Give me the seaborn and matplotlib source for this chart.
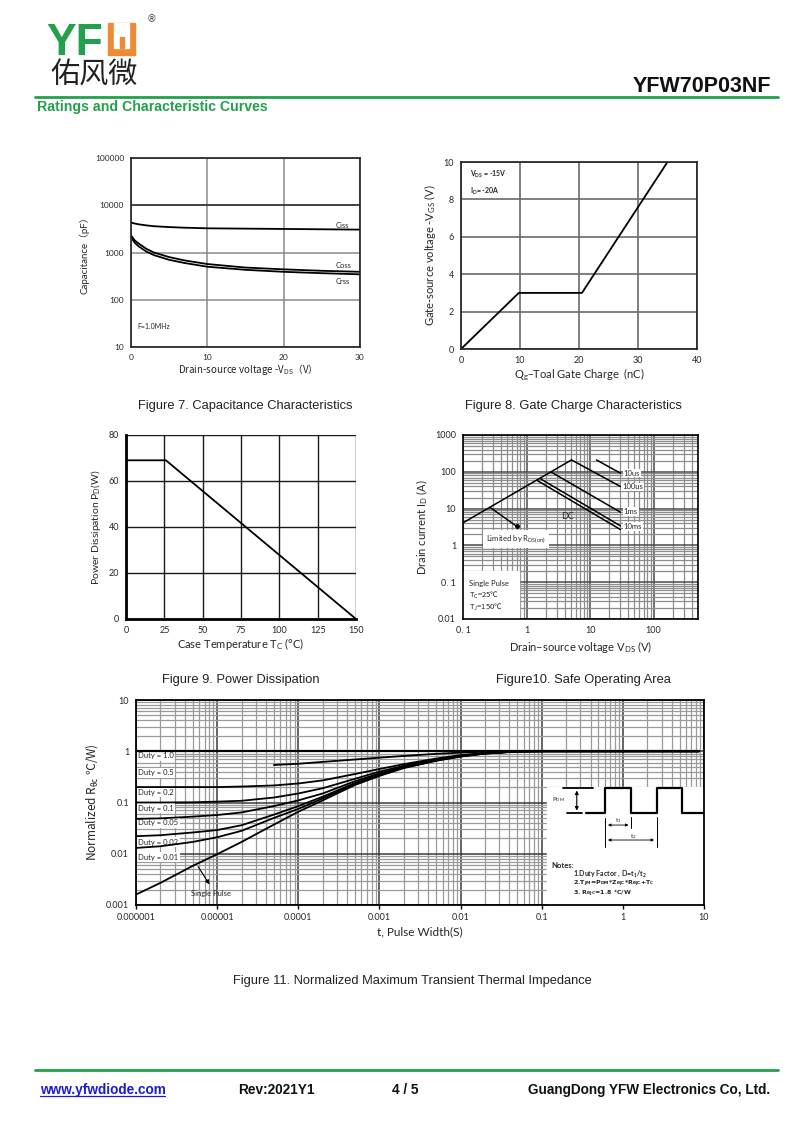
import numpy as np
import pandas as pd
import matplotlib
matplotlib.use('Agg')
import matplotlib.pyplot as plt
import seaborn as sns
from matplotlib.patches import Rectangle
from matplotlib.ticker import FixedLocator, NullLocator, LogLocator, NullFormatter

sns.set_theme(style='white')
plt.rcParams['font.family'] = ['Lato', 'Noto Sans CJK SC', 'DejaVu Sans']
plt.rcParams['mathtext.default'] = 'regular'

# ---- data ----
# Fig 7 capacitance
cap_vds = [0, 0.5, 1, 2, 3, 5, 7, 10, 15, 20, 25, 30]
cap_ciss = [4300, 4100, 3950, 3750, 3600, 3450, 3350, 3250, 3200, 3150, 3100, 3050]
cap_coss = [2300, 1800, 1550, 1200, 1000, 800, 680, 570, 480, 440, 410, 390]
cap_crss = [2100, 1600, 1350, 1050, 880, 700, 600, 500, 430, 390, 365, 345]

# Fig 8 gate charge
gate_qg = [0, 9.8, 20.5, 35]
gate_vgs = [0, 3, 3, 10]

# Fig 9 power dissipation
pwr_tc = [0, 26, 150]
pwr_pd = [69, 69, 0]

# Fig 10 safe operating area
soa_limit_v = [0.1, 5.1]
soa_limit_i = [4.1, 210]
soa_10us_v = [12.6, 30]
soa_10us_i = [210, 92]
soa_100us_v = [5.1, 30]
soa_100us_i = [210, 40]
soa_1ms_v = [2.4, 30]
soa_1ms_i = [100, 8]
soa_10ms_v = [1.62, 30]
soa_10ms_i = [66, 3.4]
soa_dc_v = [1.45, 30]
soa_dc_i = [59, 2.7]
soa_ptr_v = [0.265, 0.7]
soa_ptr_i = [10.9, 3.3]

# Fig 11 transient thermal impedance
th_t = [1e-6, 2e-6, 5e-6, 1e-5, 2e-5, 5e-5, 1e-4, 2e-4, 5e-4, 1e-3, 2e-3,
        5e-3, 1e-2, 2e-2, 5e-2, 1e-1, 1, 8.7]
th_t05 = [5e-5, 1e-4, 2e-4, 5e-4, 1e-3, 2e-3, 5e-3, 1e-2, 2e-2, 5e-2, 1e-1,
          1, 8.7]
z_d10 = [1, 1, 1, 1, 1, 1, 1, 1, 1, 1, 1, 1, 1, 1, 1, 1, 1, 1]
z_d05 = [0.54, 0.57, 0.62, 0.69, 0.75, 0.81, 0.89, 0.94, 0.98, 1, 1, 1, 1]
z_d02 = [0.2, 0.2, 0.2, 0.2, 0.205, 0.215, 0.235, 0.27, 0.36, 0.45, 0.56,
         0.72, 0.84, 0.93, 0.99, 1, 1, 1]
z_d01 = [0.1, 0.1, 0.101, 0.104, 0.108, 0.125, 0.15, 0.19, 0.29, 0.40, 0.52,
         0.70, 0.82, 0.92, 0.99, 1, 1, 1]
z_d005 = [0.048, 0.049, 0.053, 0.057, 0.064, 0.085, 0.11, 0.15, 0.26, 0.37,
          0.50, 0.68, 0.81, 0.91, 0.99, 1, 1, 1]
z_d002 = [0.022, 0.023, 0.026, 0.029, 0.036, 0.058, 0.085, 0.13, 0.24, 0.35,
          0.49, 0.67, 0.80, 0.91, 0.99, 1, 1, 1]
z_d001 = [0.013, 0.014, 0.017, 0.021, 0.028, 0.05, 0.075, 0.12, 0.23, 0.34,
          0.48, 0.66, 0.79, 0.90, 0.99, 1, 1, 1]
z_single = [0.0016, 0.0027, 0.0058, 0.0098, 0.017, 0.037, 0.066, 0.11, 0.22,
            0.33, 0.47, 0.65, 0.79, 0.90, 0.99, 1, 1, 1]
duty_labels = ['Duty = 1.0', 'Duty = 0.5', 'Duty = 0.2', 'Duty = 0.1',
               'Duty = 0.05', 'Duty = 0.02', 'Duty = 0.01']

GREEN = '#23a04c'
ORANGE = '#ef8a34'
W, H = 800, 1130

fig = plt.figure(figsize=(8, 11.3), dpi=100)

# page overlay in pixel coordinates
page = fig.add_axes([0, 0, 1, 1])
page.set_xlim(0, W)
page.set_ylim(H, 0)
page.axis('off')


def box(l, t, r, b):
    return [l / W, 1 - b / H, (r - l) / W, (b - t) / H]


def line(ax, x, y, lw=1.3):
    sns.lineplot(x=x, y=y, ax=ax, color='black', lw=lw, sort=False,
                 estimator=None)


# ---- header ----
page.text(46, 55, 'YF', fontsize=32, fontweight='bold', color=GREEN,
          family='Liberation Sans', va='baseline')
page.add_patch(Rectangle((108, 23), 27, 32, color=ORANGE))
page.add_patch(Rectangle((114, 23), 15, 25, color='white'))
page.add_patch(Rectangle((119.5, 37), 4, 11, color=ORANGE))
page.text(147, 19, '®', fontsize=7, color='#444444', va='center',
          family='DejaVu Sans')
page.text(50, 76, '佑风微', fontsize=21, family='Noto Sans CJK SC',
          color='#222222', va='center')
page.text(771, 86, 'YFW70P03NF', fontsize=15.5, fontweight='bold',
          family='Liberation Sans', ha='right', va='center', color='#111111')
page.plot([35, 778], [97, 97], color=GREEN, lw=2)
page.text(37, 100, 'Ratings and Characteristic Curves', fontsize=10.2,
          fontweight='bold', family='Liberation Sans', color=GREEN,
          va='top')

# ---- footer ----
page.plot([35, 778], [1070, 1070], color=GREEN, lw=2)
foot_kw = dict(fontsize=9.8, fontweight='bold', family='Liberation Sans',
               va='center', color='#111111')
page.text(40, 1090, 'www.yfwdiode.com', **{**foot_kw, 'color': '#1a1ad8'})
page.plot([40, 165], [1096, 1096], color='#1a1ad8', lw=0.9)
page.text(238, 1090, 'Rev:2021Y1', **foot_kw)
page.text(392, 1090, '4 / 5', **foot_kw)
page.text(770, 1090, 'GuangDong YFW Electronics Co, Ltd.', ha='right',
          **foot_kw)

# ---- captions ----
cap_kw = dict(fontsize=9.3, family='Liberation Sans', ha='center',
              va='center', color='#222222')
page.text(245, 406, 'Figure 7. Capacitance Characteristics', **cap_kw)
page.text(573, 406, 'Figure 8. Gate Charge Characteristics', **cap_kw)
page.text(241, 680, 'Figure 9. Power Dissipation', **cap_kw)
page.text(583, 680, 'Figure10. Safe Operating Area', **cap_kw)
page.text(412, 981, 'Figure 11. Normalized Maximum Transient Thermal Impedance',
          **cap_kw)

# ---- Fig 7 ----
ax1 = fig.add_axes(box(131, 158, 360, 347))
ax1.set_yscale('log')
line(ax1, cap_vds, cap_ciss)
line(ax1, cap_vds, cap_coss)
line(ax1, cap_vds, cap_crss)
ax1.set_xlim(0, 30)
ax1.set_ylim(10, 100000)
ax1.set_xticks([0, 10, 20, 30])
ax1.yaxis.set_major_locator(FixedLocator([10, 100, 1000, 10000, 100000]))
ax1.set_yticklabels(['10', '100', '1000', '10000', '100000'])
ax1.yaxis.set_minor_locator(NullLocator())
ax1.grid(True, which='major', color='#8a8a8a', lw=1.1)
ax1.axhline(10000, color='#333333', lw=1.2)
ax1.tick_params(length=0, labelsize=6, pad=5)
ax1.set_xlabel('Drain-source voltage -V$_{DS}$（V）', fontsize=7,
               family='Noto Sans CJK SC', labelpad=1)
ax1.set_ylabel('Capacitance（pF）', fontsize=7, labelpad=4)
ax1.text(26.8, 3700, 'Ciss', fontsize=5.5, va='center')
ax1.text(26.8, 520, 'Coss', fontsize=5.5, va='center')
ax1.text(26.8, 240, 'Crss', fontsize=5.5, va='center')
ax1.text(0.8, 27, 'F=1.0MHz', fontsize=5, va='center')

# ---- Fig 8 ----
ax2 = fig.add_axes(box(461, 162, 697, 349))
line(ax2, gate_qg, gate_vgs)
ax2.set_xlim(0, 40)
ax2.set_ylim(0, 10)
ax2.set_xticks([0, 10, 20, 30, 40])
ax2.set_yticks([0, 2, 4, 6, 8, 10])
ax2.grid(True, color='#6a6a6a', lw=1.2)
ax2.tick_params(length=0, labelsize=6.5, pad=5)
ax2.set_xlabel('Q$_g$–Toal Gate Charge  (nC)', fontsize=8, labelpad=1)
ax2.set_ylabel('Gate-source voltage -V$_{GS}$ (V)', fontsize=8, labelpad=4)
ax2.text(1.5, 9.35, 'V$_{DS}$ = -15V', fontsize=5, fontweight='bold',
         va='center')
ax2.text(1.5, 8.45, 'I$_D$= -20A', fontsize=5, fontweight='bold', va='center')

# ---- Fig 9 ----
ax3 = fig.add_axes(box(126, 435, 356, 619))
line(ax3, pwr_tc, pwr_pd)
ax3.set_xlim(0, 150)
ax3.set_ylim(0, 80)
ax3.set_xticks([0, 25, 50, 75, 100, 125, 150])
ax3.set_yticks([0, 20, 40, 60, 80])
ax3.grid(True, color='#1a1a1a', lw=1.0)
ax3.tick_params(length=0, labelsize=6.5, pad=5)
for s in ['left', 'bottom']:
    ax3.spines[s].set_linewidth(2)
    ax3.spines[s].set_color('black')
for s in ['top', 'right']:
    ax3.spines[s].set_visible(False)
ax3.set_xlabel('Case Temperature T$_C$ (°C)', fontsize=8, labelpad=1)
ax3.set_ylabel('Power Dissipation P$_D$(W)', fontsize=7.5, labelpad=4)

# ---- Fig 10 ----
ax4 = fig.add_axes(box(463, 435, 698, 619))
ax4.set_xscale('log')
ax4.set_yscale('log')
ax4.set_axisbelow(True)
for v, i in [(soa_limit_v, soa_limit_i), (soa_10us_v, soa_10us_i),
             (soa_100us_v, soa_100us_i), (soa_1ms_v, soa_1ms_i),
             (soa_10ms_v, soa_10ms_i), (soa_dc_v, soa_dc_i)]:
    line(ax4, v, i, lw=1.1)
line(ax4, soa_ptr_v, soa_ptr_i, lw=1.0)
ax4.plot(soa_ptr_v[-1:], soa_ptr_i[-1:], 'o', color='black', ms=2.5)
ax4.set_xlim(0.1, 500)
ax4.set_ylim(0.01, 1000)
ax4.xaxis.set_major_locator(FixedLocator([0.1, 1, 10, 100]))
ax4.set_xticklabels(['0. 1', '1', '10', '100'])
ax4.yaxis.set_major_locator(FixedLocator([0.01, 0.1, 1, 10, 100, 1000]))
ax4.set_yticklabels(['0.01', '0. 1', '1', '10', '100', '1000'])
for a in [ax4.xaxis, ax4.yaxis]:
    a.set_minor_locator(LogLocator(base=10, subs=np.arange(2, 10), numticks=20))
    a.set_minor_formatter(NullFormatter())
ax4.grid(True, which='major', color='#4a4a4a', lw=1.1)
ax4.grid(True, which='minor', color='#8c8c8c', lw=0.9)
ax4.tick_params(which='both', length=0, labelsize=6.5, pad=5)
ax4.add_patch(Rectangle((0, 0), 0.237, 0.26, transform=ax4.transAxes,
                        color='white', zorder=1))
ax4.text(0.10, 0.435, 'Limited by R$_{DS(on)}$', transform=ax4.transAxes,
         fontsize=5.5, va='center', zorder=3,
         bbox=dict(fc='white', ec='none', pad=2.5))
ax4.text(0.025, 0.195, 'Single Pulse', transform=ax4.transAxes, fontsize=5.5,
         va='center', zorder=3)
ax4.text(0.025, 0.13, 'T$_C$=25℃', transform=ax4.transAxes, fontsize=5.5,
         va='center', zorder=3, family='Noto Sans CJK SC')
ax4.text(0.025, 0.065, 'T$_J$=150℃', transform=ax4.transAxes, fontsize=5.5,
         va='center', zorder=3, family='Noto Sans CJK SC')
ax4.text(3.5, 6.2, 'DC', fontsize=6.5, va='center')
soa_kw = dict(fontsize=5.5, va='center', zorder=3,
              bbox=dict(fc='white', ec='none', pad=0.5))
ax4.text(34, 92, '10us', **soa_kw)
ax4.text(32, 39, '100us', **soa_kw)
ax4.text(34, 8.3, '1ms', **soa_kw)
ax4.text(34, 3.3, '10ms', **soa_kw)
ax4.set_xlabel('Drain−source voltage V$_{DS}$ (V)', fontsize=8, labelpad=3)
ax4.set_ylabel('Drain current I$_D$ (A)', fontsize=8, labelpad=4)
for s in ax4.spines.values():
    s.set_color('black')
    s.set_linewidth(1.2)

# ---- Fig 11 ----
ax5 = fig.add_axes(box(136, 700, 704, 905))
ax5.set_xscale('log')
ax5.set_yscale('log')
ax5.set_axisbelow(True)
line(ax5, th_t, z_d10, lw=1.6)
line(ax5, th_t05, z_d05)
for z in [z_d02, z_d01, z_d005, z_d002, z_d001, z_single]:
    line(ax5, th_t, z)
ax5.set_xlim(1e-6, 10)
ax5.set_ylim(1e-3, 10)
xt = [1e-6, 1e-5, 1e-4, 1e-3, 1e-2, 1e-1, 1, 10]
ax5.xaxis.set_major_locator(FixedLocator(xt))
ax5.set_xticklabels(['0.000001', '0.00001', '0.0001', '0.001', '0.01', '0.1',
                     '1', '10'])
ax5.yaxis.set_major_locator(FixedLocator([1e-3, 1e-2, 1e-1, 1, 10]))
ax5.set_yticklabels(['0.001', '0.01', '0.1', '1', '10'])
for a in [ax5.xaxis, ax5.yaxis]:
    a.set_minor_locator(LogLocator(base=10, subs=np.arange(2, 10), numticks=20))
    a.set_minor_formatter(NullFormatter())
ax5.grid(True, which='major', color='#3a3a3a', lw=1.1)
ax5.grid(True, which='minor', color='#9a9a9a', lw=0.9)
ax5.tick_params(which='major', axis='x', length=3, width=1, color='black',
                labelsize=6.5, pad=3, direction='out', bottom=True)
ax5.tick_params(which='minor', length=0)
ax5.tick_params(axis='y', length=0, labelsize=6.5, pad=5)
for s in ax5.spines.values():
    s.set_color('black')
    s.set_linewidth(1.3)
ax5.set_xlabel('t, Pulse Width(S)', fontsize=8.5, labelpad=3)
ax5.set_ylabel('Normalized R$_{θc}$ ℃/W)', fontsize=8.5, labelpad=4,
               family='Noto Sans CJK SC')

# duty labels
for lab, fy in zip(duty_labels, [0.727, 0.644, 0.551, 0.473, 0.40, 0.307, 0.234]):
    ax5.text(0.004, fy, lab, transform=ax5.transAxes, fontsize=5.5,
             va='center', zorder=1.8,
             bbox=dict(fc='white', ec='none', pad=1))
ax5.annotate('', xy=(0.132, 0.089), xycoords='axes fraction',
             xytext=(5.6e-6, 0.0062), textcoords='data',
             arrowprops=dict(arrowstyle='-|>', color='black', lw=0.8,
                             mutation_scale=6))
ax5.text(0.132, 0.054, 'Single Pulse', transform=ax5.transAxes, fontsize=5.5,
         ha='center', va='center')

# notes region with pulse sketch
T = ax5.transAxes
ax5.add_patch(Rectangle((0.724, 0), 0.276, 0.576, transform=T, color='white',
                        zorder=1))
hi, lo = 0.572, 0.447
ax5.plot([0.752, 0.805], [hi, hi], color='black', lw=1.3, transform=T, zorder=3)
ax5.plot([0.758, 0.786], [lo, lo], color='black', lw=1.3, transform=T, zorder=3)
ax5.annotate('', xy=(0.776, hi), xytext=(0.776, lo), xycoords=T,
             arrowprops=dict(arrowstyle='<|-|>', color='black', lw=0.8,
                             mutation_scale=5), zorder=3)
ax5.text(0.733, 0.512, 'P$_{DM}$', transform=T, fontsize=4.5, va='center')
wx = [0.793, 0.826, 0.826, 0.872, 0.872, 0.917, 0.917, 0.962, 0.962, 0.999]
wy = [lo, lo, hi, hi, lo, lo, hi, hi, lo, lo]
ax5.plot(wx, wy, color='black', lw=1.6, transform=T, zorder=3)
for x0, y0, y1 in [(0.826, 0.424, 0.283), (0.872, 0.429, 0.376),
                   (0.917, 0.429, 0.283)]:
    ax5.plot([x0, x0], [y0, y1], color='black', lw=0.7, transform=T, zorder=3)
ax5.annotate('', xy=(0.826, 0.39), xytext=(0.872, 0.39), xycoords=T,
             arrowprops=dict(arrowstyle='<|-|>', color='black', lw=0.6,
                             mutation_scale=4), zorder=3)
ax5.annotate('', xy=(0.826, 0.317), xytext=(0.917, 0.317), xycoords=T,
             arrowprops=dict(arrowstyle='<|-|>', color='black', lw=0.6,
                             mutation_scale=4), zorder=3)
ax5.text(0.849, 0.41, 't$_1$', transform=T, fontsize=4.5, ha='center',
         va='center', zorder=3)
ax5.text(0.875, 0.335, 't$_2$', transform=T, fontsize=4.5, ha='center',
         va='center', zorder=3)
ax5.text(0.732, 0.195, 'Notes:', transform=T, fontsize=5.5, fontweight='bold',
         va='center', zorder=3)
ax5.text(0.769, 0.151, '1.Duty Factor , D=t$_1$/t$_2$', transform=T,
         fontsize=5, fontweight='bold', va='center', zorder=3)
ax5.text(0.769, 0.102, '2.T$_{JM}$=P$_{DM}$*Z$_{θJC}$*R$_{θJC}$+T$_C$',
         transform=T, fontsize=4.5, fontweight='bold', va='center', zorder=3,
         family='DejaVu Sans')
ax5.text(0.769, 0.054, '3. R$_{θJC}$=1.8 °C/W', transform=T, fontsize=4.5,
         fontweight='bold', va='center', zorder=3, family='DejaVu Sans')

fig.savefig('out.png', dpi=100, facecolor='white')
